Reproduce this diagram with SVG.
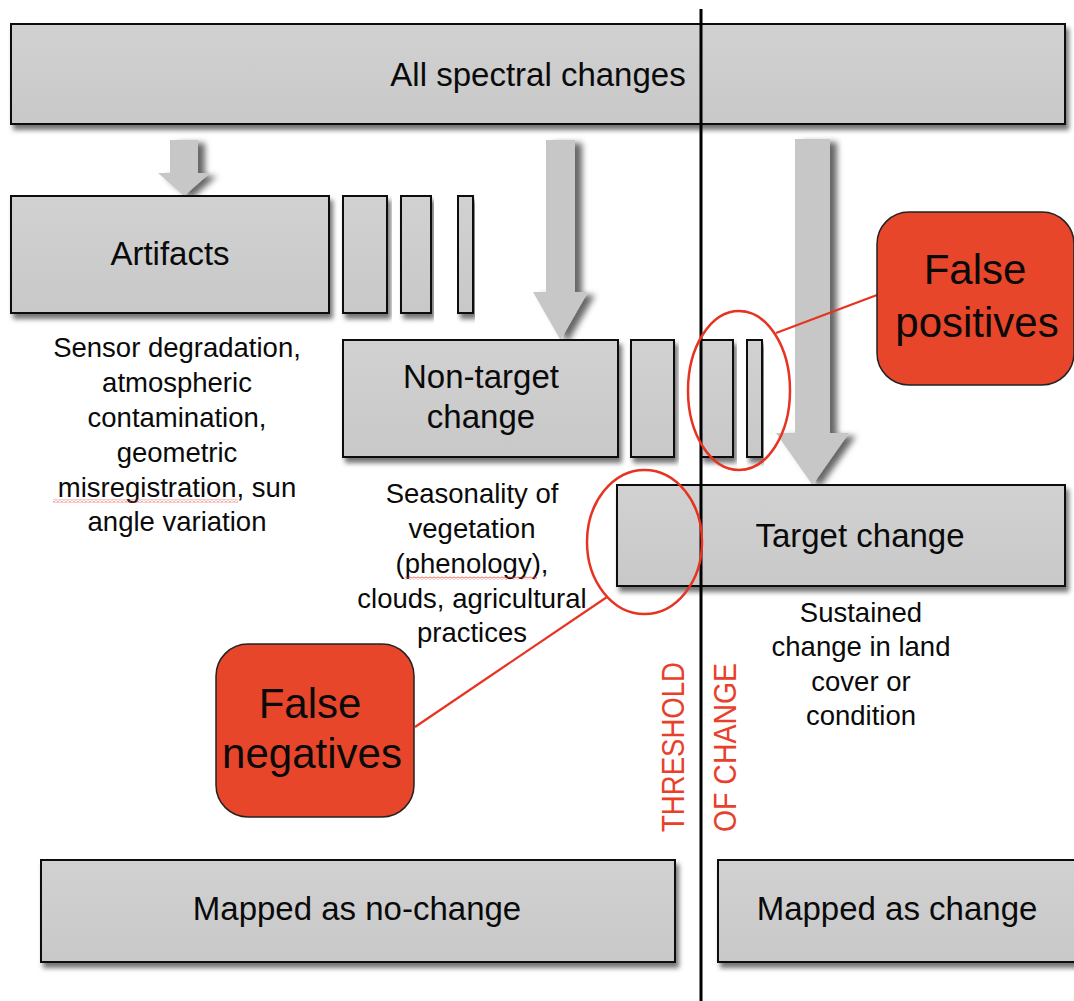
<svg xmlns="http://www.w3.org/2000/svg" width="1074" height="1001" viewBox="0 0 1074 1001">
  <defs>
    <linearGradient id="boxFill" x1="0" y1="0" x2="0" y2="1">
      <stop offset="0" stop-color="#d1d1d1"/>
      <stop offset="0.5" stop-color="#cdcdcd"/>
      <stop offset="1" stop-color="#c8c8c8"/>
    </linearGradient>
    <filter id="boxShadow" x="-5%" y="-10%" width="115%" height="130%">
      <feDropShadow dx="3" dy="5" stdDeviation="2.5" flood-color="#000" flood-opacity="0.55"/>
    </filter>
    <filter id="arrowShadow" x="-30%" y="-10%" width="160%" height="130%">
      <feDropShadow dx="7" dy="3" stdDeviation="3" flood-color="#000" flood-opacity="0.6"/>
    </filter>
    <!-- wavy spell-check underline -->
    <pattern id="squiggle" patternUnits="userSpaceOnUse" width="4" height="3">
      <path d="M0 2.5 L2 0.5 L4 2.5" fill="none" stroke="#e8392a" stroke-width="1"/>
    </pattern>
    <style>
      .box { fill: url(#boxFill); stroke: #111; stroke-width: 2; filter: url(#boxShadow); }
      .arrow { fill: #c7c7c7; filter: url(#arrowShadow); }
      .callout { fill: #e8462b; stroke: #222; stroke-width: 1.5; }
      .ring { fill: none; stroke: #e63322; stroke-width: 2.5; }
      .lead { fill: none; stroke: #e63322; stroke-width: 2.2; }
      .label { font-family: "Liberation Sans", Arial, sans-serif; font-size: 33px; fill: #0a0a0a; text-anchor: middle; }
      .note { font-family: "Liberation Sans", Arial, sans-serif; font-size: 27.5px; fill: #0a0a0a; text-anchor: middle; }
      .big { font-family: "Liberation Sans", Arial, sans-serif; font-size: 42px; fill: #0a0a0a; text-anchor: middle; }
      .thr { font-family: "Liberation Sans", Arial, sans-serif; font-size: 31px; fill: #e8402a; }
    </style>
  </defs>

  <rect width="1074" height="1001" fill="#fff"/>

  <!-- flow arrows -->
  <g id="connectors">
    <path class="arrow" d="M170 140 H198 V173 H210 L184 196 L158 173 H170 Z"/>
    <path class="arrow" d="M546 140 H575 V292 H588 L560.5 340 L533 292 H546 Z"/>
    <path class="arrow" d="M795 139 H830 V433 H849 L812.5 485 L776 433 H795 Z"/>
  </g>

  <g id="all-spectral-changes">
    <rect class="box" x="11" y="24" width="1054" height="100"/>
    <text class="label" x="538" y="86">All spectral changes</text>
  </g>

  <g id="artifacts">
    <rect class="box" x="11" y="196" width="318" height="117"/>
    <rect class="box" x="343" y="196" width="44" height="117"/>
    <rect class="box" x="401" y="196" width="30" height="117"/>
    <rect class="box" x="458" y="196" width="15" height="117"/>
    <text class="label" x="170" y="265">Artifacts</text>
  </g>

  <g id="artifacts-notes">
    <text class="note" x="177" y="357">Sensor degradation,</text>
    <text class="note" x="177" y="392">atmospheric</text>
    <text class="note" x="177" y="427">contamination,</text>
    <text class="note" x="177" y="462">geometric</text>
    <text class="note" x="177" y="497">misregistration, sun</text>
    <text class="note" x="177" y="531">angle variation</text>
    <rect x="53" y="499.5" width="185" height="3" fill="url(#squiggle)"/>
  </g>

  <g id="non-target-change">
    <rect class="box" x="343" y="340" width="275" height="117"/>
    <rect class="box" x="631" y="340" width="43" height="117"/>
    <rect class="box" x="701" y="340" width="32" height="117"/>
    <rect class="box" x="747" y="340" width="15" height="117"/>
    <text class="label" x="481" y="388">Non-target</text>
    <text class="label" x="481" y="428">change</text>
  </g>

  <g id="non-target-notes">
    <text class="note" x="472" y="503">Seasonality of</text>
    <text class="note" x="472" y="538">vegetation</text>
    <text class="note" x="472" y="573">(phenology),</text>
    <text class="note" x="472" y="608">clouds, agricultural</text>
    <text class="note" x="472" y="642">practices</text>
    <rect x="405" y="576.5" width="132" height="3" fill="url(#squiggle)"/>
  </g>

  <g id="target-change">
    <rect class="box" x="617" y="485" width="448" height="101"/>
    <text class="label" x="860" y="547">Target change</text>
  </g>

  <g id="target-notes">
    <text class="note" x="861" y="622">Sustained</text>
    <text class="note" x="861" y="656">change in land</text>
    <text class="note" x="861" y="691">cover or</text>
    <text class="note" x="861" y="725">condition</text>
  </g>

  <g id="mapped-no-change">
    <rect class="box" x="41" y="860" width="634" height="102"/>
    <text class="label" x="357" y="920">Mapped as no-change</text>
  </g>

  <g id="mapped-change">
    <rect class="box" x="718" y="860" width="370" height="102"/>
    <text class="label" x="897" y="920">Mapped as change</text>
  </g>

  <!-- threshold of change -->
  <g id="threshold">
    <line x1="701" y1="9" x2="701" y2="1001" stroke="#000" stroke-width="3"/>
    <text class="thr" transform="translate(684,832) rotate(-90)" textLength="170" lengthAdjust="spacingAndGlyphs">THRESHOLD</text>
    <text class="thr" transform="translate(736,832) rotate(-90)" textLength="169" lengthAdjust="spacingAndGlyphs">OF CHANGE</text>
  </g>

  <g id="false-positives">
    <ellipse class="ring" cx="739" cy="390.5" rx="51" ry="79.5"/>
    <line class="lead" x1="776" y1="333" x2="877" y2="295"/>
    <rect class="callout" x="877" y="212" width="197" height="173" rx="32"/>
    <text class="big" x="975" y="284">False</text>
    <text class="big" x="977" y="337">positives</text>
  </g>

  <g id="false-negatives">
    <ellipse class="ring" cx="644.5" cy="542" rx="57.5" ry="72"/>
    <line class="lead" x1="415" y1="727" x2="607" y2="597"/>
    <rect class="callout" x="216" y="644" width="198" height="173" rx="32"/>
    <text class="big" x="310" y="718">False</text>
    <text class="big" x="312" y="768">negatives</text>
  </g>
</svg>
